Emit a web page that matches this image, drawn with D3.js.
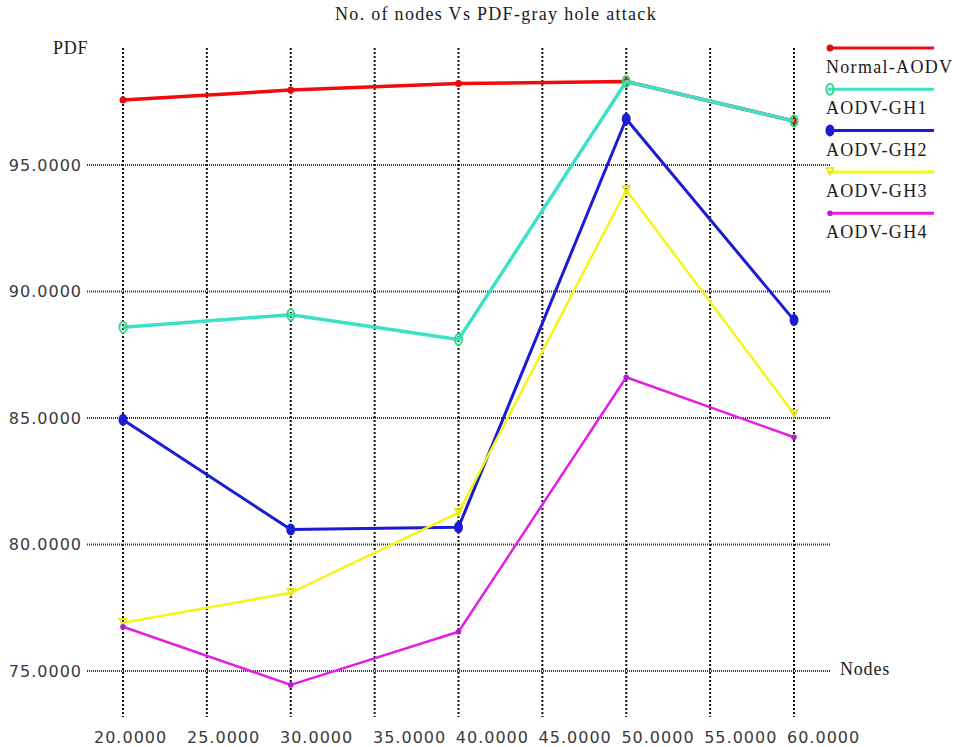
<!DOCTYPE html>
<html>
<head>
<meta charset="utf-8">
<script src="https://cdn.jsdelivr.net/npm/d3@7"></script>
<style>
  body { margin: 0; background: #fff; }
  svg { display: block; }
  .grid-v { stroke: #111; stroke-width: 2; stroke-dasharray: 2,2; }
  .grid-h { stroke: #333; stroke-width: 2; stroke-dasharray: 1,1; }
  .tick-label { font-family: "DejaVu Sans", sans-serif; font-size: 16px; fill: #3a3a3a; letter-spacing: 1px; }
  .serif { font-family: "Liberation Serif", "Times New Roman", serif; fill: #1a1a1a; }
</style>
</head>
<body>
<svg id="chart" width="958" height="747"></svg>
<script>
// data
const nodes = [20, 30, 40, 50, 60];
const normalAodv = [97.57, 97.96, 98.22, 98.30, 96.74];
const aodvGh1 = [88.59, 89.08, 88.10, 98.30, 96.74];
const aodvGh2 = [84.93, 80.59, 80.68, 96.82, 88.87];
const aodvGh3 = [76.91, 78.09, 81.26, 94.01, 85.16];
const aodvGh4 = [76.75, 74.45, 76.55, 86.61, 84.24];

const xTicks = [20, 25, 30, 35, 40, 45, 50, 55, 60];
const yTicks = [75, 80, 85, 90, 95];

const seriesNames = ["Normal-AODV", "AODV-GH1", "AODV-GH2", "AODV-GH3", "AODV-GH4"];
const seriesValues = [normalAodv, aodvGh1, aodvGh2, aodvGh3, aodvGh4];
const seriesColors = ["#f00c0c", "#3fe0c8", "#1c1cd2", "#f5f516", "#e41ee4"];
const seriesWidths = [3.5, 3.5, 3, 2.5, 2.5];

const svg = d3.select("#chart");

const x = d3.scaleLinear().domain([20, 60]).range([123, 794]);
const y = d3.scaleLinear().domain([75, 95]).range([671, 165]);
// tick labels in the original drift left of their grid lines on the left side
const labelX = d3.scaleLinear().domain([20, 35, 60]).range([94, 373, 787]);

// grid
svg.append("g").selectAll("line")
  .data(xTicks)
  .join("line")
  .attr("class", "grid-v")
  .attr("x1", d => x(d)).attr("x2", d => x(d))
  .attr("y1", 48).attr("y2", 717);

svg.append("g").selectAll("line")
  .data(yTicks)
  .join("line")
  .attr("class", "grid-h")
  .attr("x1", 87).attr("x2", 830)
  .attr("y1", d => y(d)).attr("y2", d => y(d));

// y labels
const yAxis = svg.append("g")
  .attr("transform", "translate(87,0)")
  .call(d3.axisLeft(y).tickValues(yTicks).tickFormat(d3.format(".4f")).tickSize(0).tickPadding(5));
yAxis.select(".domain").remove();
yAxis.selectAll("text").attr("class", "tick-label").attr("dy", "0.32em");

// x labels
svg.append("g").selectAll("text")
  .data(xTicks)
  .join("text")
  .attr("class", "tick-label")
  .attr("x", d => labelX(d))
  .attr("y", 743)
  .text(d => d3.format(".4f")(d));

// titles
svg.append("text")
  .attr("class", "serif")
  .attr("x", 496).attr("y", 20)
  .attr("text-anchor", "middle")
  .style("font-size", "18px")
  .style("letter-spacing", "1.3px")
  .text("No. of nodes Vs PDF-gray hole attack");

svg.append("text")
  .attr("class", "serif")
  .attr("x", 53).attr("y", 54)
  .style("font-size", "18px")
  .style("letter-spacing", "0.8px")
  .text("PDF");

svg.append("text")
  .attr("class", "serif")
  .attr("x", 840).attr("y", 675)
  .style("font-size", "18px")
  .style("letter-spacing", "0.8px")
  .text("Nodes");

// series
const line = d3.line().x(d => x(d.n)).y(d => y(d.v));

function drawMarker(g, i, cx, cy) {
  if (i === 0) {
    g.append("circle").attr("cx", cx).attr("cy", cy).attr("r", 3.5).attr("fill", "#e01010");
  } else if (i === 1) {
    g.append("ellipse").attr("cx", cx).attr("cy", cy).attr("rx", 3.5).attr("ry", 5.5)
      .attr("fill", "none").attr("stroke", "#2fdc80").attr("stroke-width", 2);
  } else if (i === 2) {
    g.append("ellipse").attr("cx", cx).attr("cy", cy).attr("rx", 4.5).attr("ry", 6)
      .attr("fill", "#1c1cd2");
  } else if (i === 3) {
    g.append("path").attr("d", `M${cx - 3.5},${cy - 4}L${cx + 3.5},${cy - 4}L${cx},${cy + 3}Z`)
      .attr("fill", "none").attr("stroke", "#e4e400").attr("stroke-width", 1.5);
  } else {
    g.append("circle").attr("cx", cx).attr("cy", cy).attr("r", 2.8).attr("fill", "#b01ed0");
  }
}

seriesValues.forEach((vals, i) => {
  const pts = nodes.map((n, j) => ({ n: n, v: vals[j] }));
  const g = svg.append("g");
  g.append("path")
    .datum(pts)
    .attr("d", line)
    .attr("fill", "none")
    .attr("stroke", seriesColors[i])
    .attr("stroke-width", seriesWidths[i])
    .attr("stroke-linejoin", "round");
  pts.forEach(p => drawMarker(g, i, x(p.n), y(p.v)));
});

// legend
const legend = svg.append("g");
seriesNames.forEach((name, i) => {
  const ly = 48 + i * 41.3;
  const g = legend.append("g");
  g.append("line")
    .attr("x1", 828).attr("x2", 934)
    .attr("y1", ly).attr("y2", ly)
    .attr("stroke", seriesColors[i])
    .attr("stroke-width", 3);
  drawMarker(g, i, 830, ly);
  g.append("text")
    .attr("class", "serif")
    .attr("x", 826).attr("y", ly + 25)
    .style("font-size", "18px")
    .style("letter-spacing", "1.3px")
    .text(name);
});
</script>
</body>
</html>
